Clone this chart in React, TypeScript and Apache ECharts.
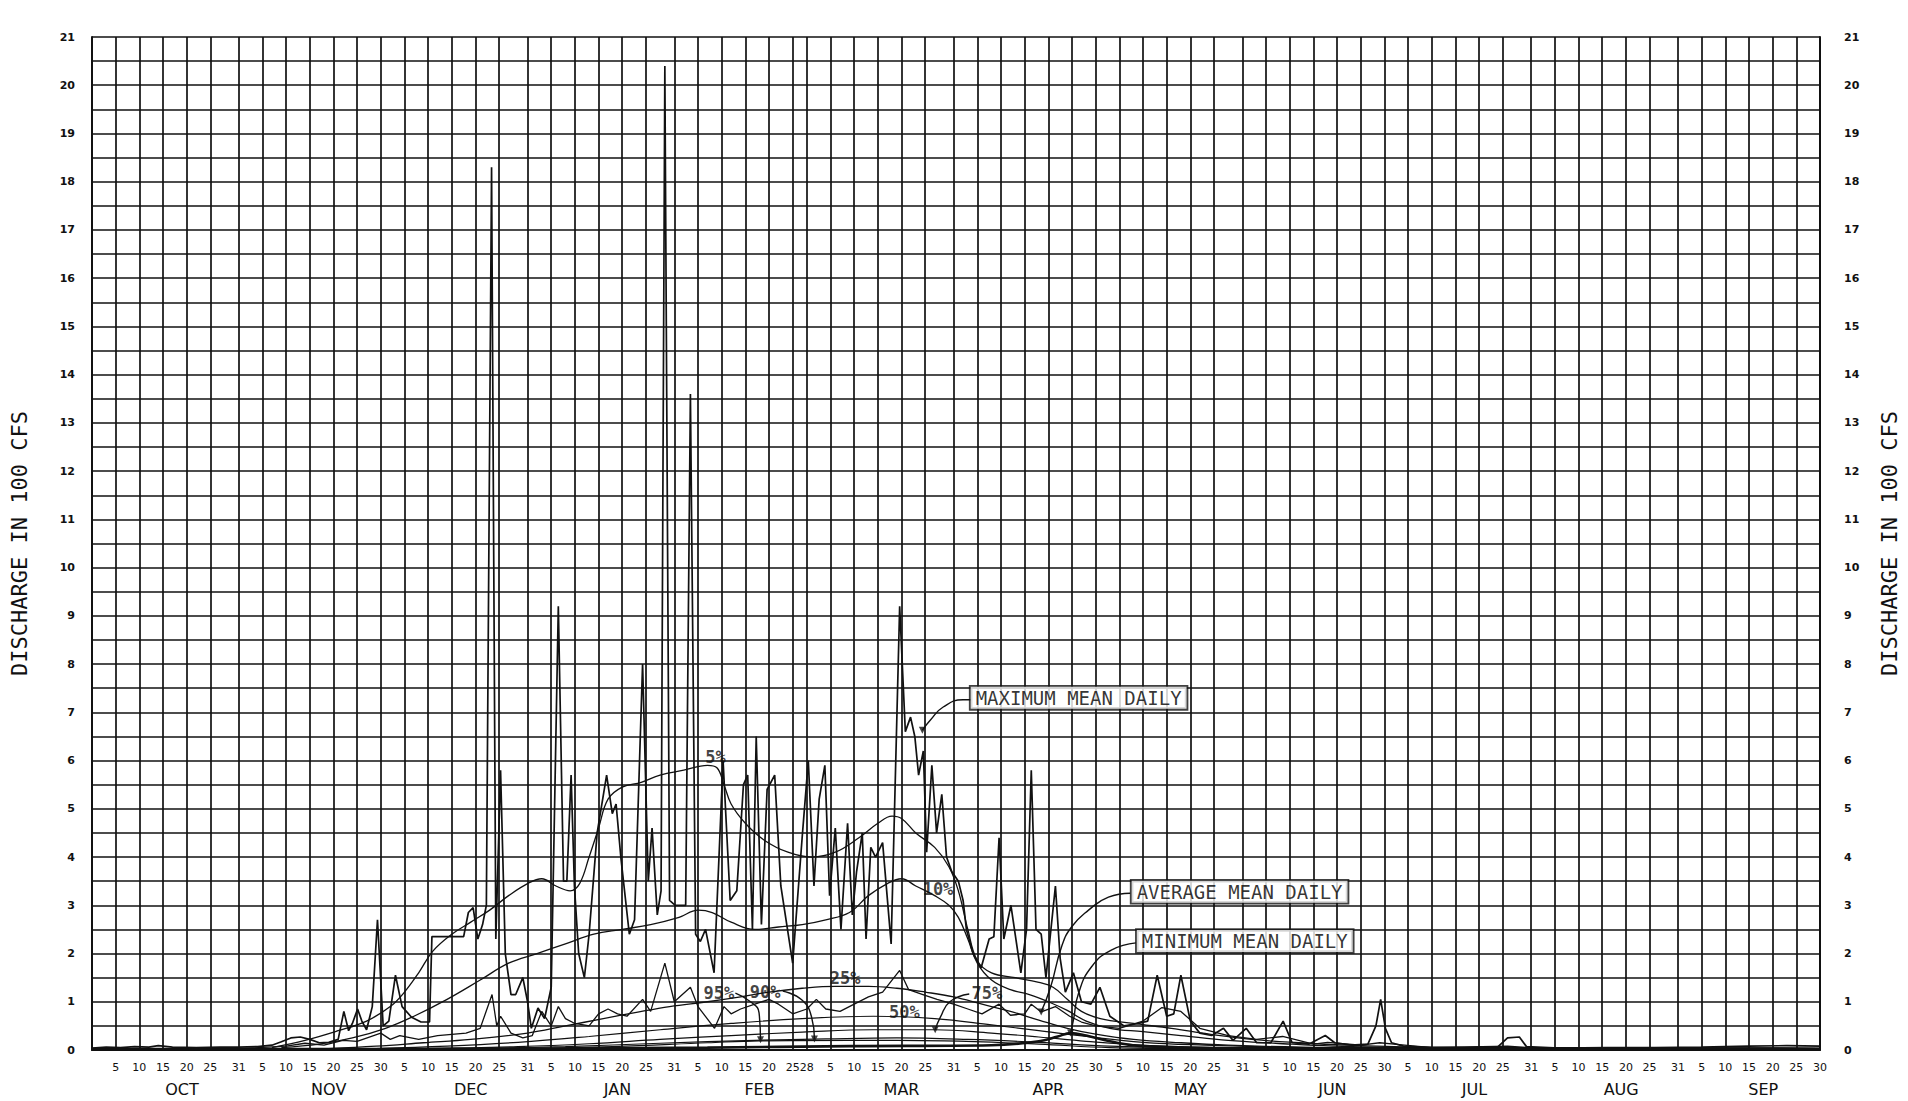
import React, { useEffect, useRef } from "react";
import * as echarts from "echarts";

// ---------- axis data ----------
const monthNames = ["OCT", "NOV", "DEC", "JAN", "FEB", "MAR", "APR", "MAY", "JUN", "JUL", "AUG", "SEP"];
const monthLengths = [31, 30, 31, 31, 28, 31, 30, 31, 30, 31, 31, 30];
const gridDaysOfMonth = [5, 10, 15, 20, 25];
const monthNameDay = [19, 19, 19, 19, 18, 20, 20, 20, 19, 19, 19, 18];
const yMin = 0;
const yMax = 21;

// ---------- series (x = day of water year, Oct 1 = 1; y = discharge in 100 cfs) ----------
const maxMeanDaily: number[][] = [
  [0, 0.04], [3, 0.06], [6, 0.05], [9, 0.07], [12, 0.06], [14, 0.09], [17, 0.06], [22, 0.05], [27, 0.06], [31, 0.06],
  [35, 0.07], [38, 0.1], [40, 0.17], [42, 0.25], [44, 0.27], [46, 0.22], [48, 0.15], [50, 0.16], [52, 0.22], [53.2, 0.8],
  [54.2, 0.4], [55, 0.55], [56.1, 0.85], [57, 0.6], [58, 0.42], [59.2, 0.9], [60.3, 2.7], [61.5, 0.5], [62.7, 0.6], [64.1, 1.55],
  [65.5, 0.9], [67.5, 0.68], [69.5, 0.58], [71.3, 0.58], [71.8, 2.35], [78.5, 2.35], [79.5, 2.85], [80.5, 2.95], [81.5, 2.3], [82.5, 2.6],
  [83.3, 3.0], [84.4, 18.3], [85.3, 2.3], [86.3, 5.8], [87.3, 2.0], [88.5, 1.15], [89.5, 1.15], [91, 1.5], [92, 1.0], [92.8, 0.45],
  [94.2, 0.87], [95.6, 0.65], [97, 1.3], [98.5, 9.2], [99.6, 3.5], [100.3, 3.5], [101.2, 5.7], [101.9, 3.4], [102.8, 2.0], [104, 1.5],
  [105, 2.4], [106.7, 4.5], [108.7, 5.7], [109.9, 4.9], [110.7, 5.1], [111.7, 4.0], [113.5, 2.4], [114.6, 2.7], [116.3, 8.0], [117.5, 3.5],
  [118.3, 4.6], [119.4, 2.8], [120.2, 3.3], [121, 20.4], [122, 3.1], [123.2, 3.0], [125.4, 3.0], [126.4, 13.6], [127.5, 2.4], [128.5, 2.25],
  [129.6, 2.5], [131.4, 1.6], [133.3, 6.0], [134.8, 3.1], [136.2, 3.3], [137.6, 5.5], [138.5, 5.7], [139.5, 2.5], [140.3, 6.5], [141.4, 2.6],
  [142.6, 5.4], [144.2, 5.7], [145.5, 3.4], [148, 1.8], [150, 4.4], [151.3, 6.0], [152.5, 3.4], [153.6, 5.2], [154.8, 5.9], [155.8, 3.2],
  [157, 4.6], [158.2, 2.5], [159.6, 4.7], [160.6, 2.8], [161.5, 3.7], [162.7, 4.5], [163.5, 2.3], [164.5, 4.2], [165.5, 4.0], [167, 4.3],
  [168.8, 2.2], [170.6, 9.2], [171.8, 6.6], [172.9, 6.9], [173.8, 6.5], [174.6, 5.7], [175.6, 6.2], [176.3, 4.1], [177.4, 5.9], [178.4, 4.5],
  [179.5, 5.3], [180.5, 4.0], [181.6, 3.7], [183, 3.5], [184, 3.1], [184.7, 2.5], [186.1, 2.0], [187.8, 1.7], [189.5, 2.3], [190.5, 2.35],
  [191.6, 4.4], [192.6, 2.3], [194.1, 3.0], [195.3, 2.2], [196.2, 1.6], [197.4, 2.5], [198.4, 5.8], [199.4, 2.5], [200.5, 2.4], [201.5, 1.5],
  [203.5, 3.4], [204.5, 1.9], [205.6, 1.2], [207.3, 1.6], [209, 1.0], [211, 0.95], [212.9, 1.3], [215, 0.7], [218, 0.5], [221, 0.55],
  [223, 0.6], [225, 1.55], [227, 0.7], [228.5, 0.75], [230, 1.55], [232, 0.6], [234, 0.35], [236.5, 0.3], [239, 0.45], [241, 0.2],
  [243.8, 0.45], [246, 0.15], [249, 0.15], [251.6, 0.6], [253.5, 0.15], [257, 0.12], [260.5, 0.3], [262.5, 0.15], [266, 0.1], [269.5, 0.12],
  [271.2, 0.5], [272.2, 1.05], [273.2, 0.45], [274.5, 0.15], [277, 0.08], [283, 0.05], [290, 0.05], [297, 0.07], [299, 0.25], [301.5, 0.27],
  [303, 0.07], [310, 0.04], [320, 0.05], [330, 0.05], [340, 0.06], [350, 0.08], [358, 0.09], [365, 0.08],
];

const averageMeanDaily: number[][] = [
  [0, 0.02], [31, 0.03], [41, 0.08], [45, 0.14], [49, 0.1], [53, 0.2], [56, 0.18], [61, 0.35], [63, 0.22], [65, 0.3],
  [69, 0.22], [73, 0.3], [79, 0.35], [82, 0.45], [84.5, 1.15], [85.5, 0.5], [86.3, 0.7], [88.5, 0.35], [91, 0.25], [93, 0.3],
  [95, 0.8], [97, 0.5], [98.5, 0.9], [100, 0.65], [102, 0.55], [105, 0.5], [107, 0.75], [109, 0.85], [111, 0.75], [113, 0.7],
  [116.3, 1.05], [118, 0.8], [121, 1.8], [123, 1.0], [126.4, 1.3], [128, 0.9], [131.5, 0.45], [133.5, 0.9], [135, 0.75], [137, 0.85],
  [140, 0.95], [143, 1.05], [145, 0.95], [148, 0.75], [151, 0.85], [153, 1.05], [155, 0.85], [158, 0.8], [161, 0.95], [164, 1.1],
  [167, 1.2], [170.6, 1.65], [172.5, 1.25], [175.5, 1.15], [178.5, 1.05], [182, 0.95], [185, 0.85], [188, 0.75], [191.6, 0.95], [194, 0.72],
  [197, 0.75], [198.4, 0.95], [200.5, 0.79], [203.5, 0.9], [206.5, 0.7], [209, 0.58], [212, 0.5], [217, 0.45], [222, 0.6], [226, 0.88],
  [230, 0.8], [234, 0.45], [240, 0.3], [246, 0.22], [251.5, 0.28], [258, 0.12], [261, 0.16], [268, 0.1], [272, 0.15], [275, 0.12],
  [283, 0.05], [299, 0.08], [305, 0.04], [365, 0.03],
];

const minimumMeanDaily: number[][] = [
  [0, 0.02], [60, 0.02], [100, 0.03], [130, 0.05], [160, 0.08], [190, 0.1], [200, 0.18], [204, 0.28], [206.7, 0.35], [210, 0.3],
  [215, 0.18], [222, 0.08], [250, 0.03], [365, 0.02],
];

const pct5: number[][] = [
  [38, 0.05], [45, 0.2], [52, 0.4], [58, 0.6], [63, 0.9], [66, 1.2], [69, 1.6], [72, 2.05], [76, 2.4], [80, 2.65],
  [84, 2.9], [88, 3.2], [92, 3.45], [95, 3.55], [98, 3.4], [101, 3.3], [103, 3.45], [105, 4.0], [107, 4.6], [109, 5.2],
  [112, 5.45], [116, 5.55], [120, 5.7], [125, 5.8], [130, 5.9], [132, 5.85], [133.5, 5.5], [135, 5.1], [138, 4.7], [142, 4.35],
  [147, 4.1], [152, 4.0], [157, 4.1], [162, 4.4], [166, 4.7], [169, 4.85], [171, 4.8], [174, 4.5], [178, 4.2], [181, 3.8],
  [183, 3.3], [185, 2.5], [187, 1.85], [190, 1.6], [195, 1.5], [200, 1.4], [203, 1.3], [206, 1.05], [209, 0.8], [213, 0.65],
  [220, 0.55], [228, 0.45], [236, 0.33], [245, 0.22], [255, 0.15], [265, 0.1], [280, 0.06], [300, 0.05], [365, 0.04],
];

const pct10: number[][] = [
  [40, 0.05], [48, 0.12], [55, 0.25], [62, 0.45], [68, 0.7], [75, 1.05], [82, 1.45], [88, 1.8], [94, 2.0], [100, 2.2],
  [106, 2.4], [112, 2.5], [118, 2.6], [124, 2.75], [128, 2.9], [131, 2.85], [135, 2.65], [140, 2.5], [145, 2.55], [150, 2.6],
  [155, 2.7], [160, 2.85], [164, 3.2], [168, 3.45], [171, 3.55], [174, 3.4], [178, 3.2], [181, 3.0], [183, 2.75], [185, 2.3],
  [187, 1.8], [190, 1.45], [194, 1.25], [198, 1.15], [202, 1.0], [206, 0.82], [210, 0.6], [215, 0.45], [222, 0.38], [230, 0.3],
  [240, 0.2], [250, 0.14], [262, 0.08], [280, 0.05], [365, 0.03],
];

const pct25: number[][] = [
  [50, 0.03], [60, 0.08], [70, 0.15], [80, 0.22], [92, 0.35], [100, 0.5], [108, 0.65], [115, 0.78], [122, 0.9], [130, 1.0],
  [137, 1.1], [143, 1.2], [150, 1.28], [157, 1.32], [164, 1.32], [170, 1.28], [176, 1.2], [182, 1.1], [188, 0.95], [194, 0.8],
  [200, 0.62], [206, 0.45], [212, 0.33], [220, 0.22], [230, 0.15], [240, 0.1], [255, 0.06], [275, 0.04], [365, 0.03],
];

const pct50: number[][] = [
  [60, 0.03], [75, 0.08], [90, 0.16], [105, 0.28], [120, 0.42], [135, 0.55], [150, 0.65], [165, 0.7], [178, 0.65], [190, 0.52],
  [200, 0.4], [210, 0.28], [222, 0.16], [235, 0.1], [250, 0.06], [270, 0.04], [365, 0.03],
];

const pct75: number[][] = [
  [70, 0.03], [90, 0.07], [105, 0.13], [120, 0.22], [135, 0.3], [150, 0.37], [165, 0.42], [178, 0.42], [190, 0.35], [200, 0.27],
  [210, 0.18], [222, 0.1], [240, 0.05], [365, 0.03],
];

const pct90: number[][] = [
  [80, 0.03], [100, 0.07], [120, 0.14], [140, 0.2], [155, 0.23], [170, 0.25], [185, 0.22], [200, 0.16], [215, 0.08], [235, 0.04], [365, 0.02],
];

const pct95: number[][] = [
  [90, 0.03], [110, 0.07], [130, 0.15], [141, 0.19], [160, 0.2], [180, 0.19], [200, 0.12], [215, 0.05], [235, 0.03], [365, 0.02],
];

// ---------- annotations (data coordinates) ----------
const boxLabels = [
  { text: "MAXIMUM MEAN DAILY", day: 208.4, value: 7.3 },
  { text: "AVERAGE MEAN DAILY", day: 242.4, value: 3.28 },
  { text: "MINIMUM MEAN DAILY", day: 243.5, value: 2.26 },
];
const percentLabels = [
  { text: "5%", day: 131.7, value: 6.07 },
  { text: "10%", day: 178.7, value: 3.34 },
  { text: "25%", day: 159.1, value: 1.49 },
  { text: "50%", day: 171.6, value: 0.79 },
  { text: "75%", day: 189.0, value: 1.18 },
  { text: "95%", day: 132.4, value: 1.18 },
  { text: "90%", day: 142.2, value: 1.2 },
];
const maxLeader = [[185.6, 7.26], [184, 7.26], [179.8, 7.11], [177.1, 6.84], [175.4, 6.63]];
const avgLeader = [[219.3, 3.25], [214.7, 3.17], [210.5, 2.9], [206.9, 2.55], [204.8, 2.14], [202.5, 1.31], [200.5, 0.79]];
const minLeader = [[220.5, 2.22], [215.3, 2.07], [211.1, 1.72], [208.4, 1.18], [207.3, 0.62], [206.7, 0.35]];
const p95Leader = [[135.9, 1.18], [139.1, 1.0], [140.9, 0.77], [141.2, 0.21]];
const p90Leader = [[145.9, 1.22], [149.9, 1.04], [152, 0.68], [152.6, 0.23]];
const p75Leader = [[185.3, 1.16], [181.2, 1.0], [179.2, 0.68], [178.1, 0.42]];

const INK = "#111";

export default function App() {
  const ref = useRef<HTMLDivElement>(null);

  useEffect(() => {
    if (!ref.current) return;
    const chart = echarts.init(ref.current, null, { renderer: "svg" });

    const totalDays = monthLengths.reduce((a, b) => a + b, 0);
    const dayCats = Array.from({ length: totalDays + 1 }, (_, i) => String(i));
    const tickLabel = new Map<number, string>();
    const monthLabel = new Map<number, string>();
    let start = 0;
    monthLengths.forEach((len, m) => {
      gridDaysOfMonth.forEach((d) => tickLabel.set(start + d, String(d)));
      tickLabel.set(start + len, String(len));
      monthLabel.set(start + monthNameDay[m], monthNames[m]);
      start += len;
    });

    const lineSeries = (name: string, data: number[][], width: number, smooth: number | boolean) => ({
      type: "line",
      name,
      data,
      xAxisIndex: 0,
      yAxisIndex: 0,
      symbol: "none",
      smooth,
      silent: true,
      z: 3,
      lineStyle: { color: INK, width },
    });

    const leaders = [maxLeader, avgLeader, minLeader, p95Leader, p90Leader, p75Leader];

    const option: any = {
      animation: false,
      backgroundColor: "#ffffff",
      grid: { left: 82, right: 78, top: 37, bottom: 51, containLabel: false },
      xAxis: [
        { type: "value", min: 0, max: totalDays, show: false },
        {
          type: "category",
          data: dayCats,
          boundaryGap: false,
          position: "bottom",
          axisLine: { show: true, lineStyle: { color: INK, width: 2 } },
          axisTick: { show: false },
          splitLine: {
            show: true,
            interval: (i: number) => tickLabel.has(i),
            lineStyle: { color: INK, width: 1.7 },
          },
          axisLabel: {
            interval: (i: number) => tickLabel.has(i),
            formatter: (v: string) => tickLabel.get(Number(v)) ?? "",
            color: INK,
            fontFamily: "DejaVu Sans",
            fontSize: 11,
            margin: 12,
          },
        },
        {
          type: "category",
          data: dayCats,
          boundaryGap: false,
          position: "bottom",
          axisLine: { show: false },
          axisTick: { show: false },
          splitLine: { show: false },
          axisLabel: {
            interval: (i: number) => monthLabel.has(i),
            formatter: (v: string) => monthLabel.get(Number(v)) ?? "",
            color: INK,
            fontFamily: "DejaVu Sans",
            fontSize: 16,
            margin: 31,
          },
        },
      ],
      yAxis: [
        {
          type: "value",
          min: yMin,
          max: yMax,
          interval: 0.5,
          position: "left",
          name: "DISCHARGE IN 100 CFS",
          nameLocation: "middle",
          nameGap: 62,
          nameRotate: 90,
          nameTextStyle: { color: INK, fontFamily: "DejaVu Sans Mono", fontSize: 22 },
          axisLine: { show: true, lineStyle: { color: INK, width: 2 } },
          axisTick: { show: false },
          splitLine: { show: true, lineStyle: { color: INK, width: 1.7 } },
          axisLabel: {
            formatter: (v: number) => (Number.isInteger(v) ? String(v) : ""),
            color: INK,
            fontFamily: "DejaVu Sans",
            fontWeight: "bold",
            fontSize: 11,
            margin: 17,
          },
        },
        {
          type: "value",
          min: yMin,
          max: yMax,
          interval: 0.5,
          position: "right",
          name: "DISCHARGE IN 100 CFS",
          nameLocation: "middle",
          nameGap: 58,
          nameRotate: 90,
          nameTextStyle: { color: INK, fontFamily: "DejaVu Sans Mono", fontSize: 22 },
          axisLine: { show: true, lineStyle: { color: INK, width: 2 } },
          axisTick: { show: false },
          splitLine: { show: false },
          axisLabel: {
            formatter: (v: number) => (Number.isInteger(v) ? String(v) : ""),
            color: INK,
            fontFamily: "DejaVu Sans",
            fontWeight: "bold",
            fontSize: 11,
            margin: 24,
          },
        },
      ],
      series: [
        lineSeries("95%", pct95, 1.2, 0.4),
        lineSeries("90%", pct90, 1.2, 0.4),
        lineSeries("75%", pct75, 1.2, 0.4),
        lineSeries("50%", pct50, 1.2, 0.4),
        lineSeries("25%", pct25, 1.3, 0.4),
        lineSeries("10%", pct10, 1.3, 0.4),
        lineSeries("5%", pct5, 1.3, 0.4),
        lineSeries("Minimum mean daily", minimumMeanDaily, 2.6, 0.4),
        lineSeries("Average mean daily", averageMeanDaily, 1.3, false),
        lineSeries("Maximum mean daily", maxMeanDaily, 1.7, false),
        ...leaders.map((d, k) => ({ ...lineSeries("leader" + k, d, 1.4, 0.5), z: 4 })),
        {
          type: "scatter",
          name: "arrows",
          silent: true,
          z: 5,
          symbol: "triangle",
          symbolSize: 7,
          symbolRotate: 180,
          itemStyle: { color: INK },
          data: leaders.map((d) => d[d.length - 1]),
        },
        {
          type: "scatter",
          name: "percent labels",
          silent: true,
          z: 6,
          symbolSize: 1,
          itemStyle: { color: "rgba(0,0,0,0)" },
          data: percentLabels.map((p) => ({ name: p.text, value: [p.day, p.value] })),
          label: {
            show: true,
            position: "inside",
            formatter: "{b}",
            color: INK,
            fontFamily: "DejaVu Sans Mono",
            fontWeight: "bold",
            fontSize: 17,
          },
        },
        {
          type: "scatter",
          name: "box labels",
          silent: true,
          z: 7,
          symbolSize: 1,
          itemStyle: { color: "rgba(0,0,0,0)" },
          data: boxLabels.map((p) => ({ name: p.text, value: [p.day, p.value] })),
          label: {
            show: true,
            position: "inside",
            formatter: "{b}",
            color: "#000",
            fontFamily: "DejaVu Sans Mono",
            fontSize: 19,
            backgroundColor: "#ffffff",
            borderColor: INK,
            borderWidth: 1.8,
            padding: [2, 5, 1, 5],
          },
        },
      ],
    };

    chart.setOption(option);
    return () => chart.dispose();
  }, []);

  return (
    <div
      ref={ref}
      style={{ position: "absolute", left: 0, top: 0, width: 1908, height: 1101, background: "#ffffff" }}
    />
  );
}
